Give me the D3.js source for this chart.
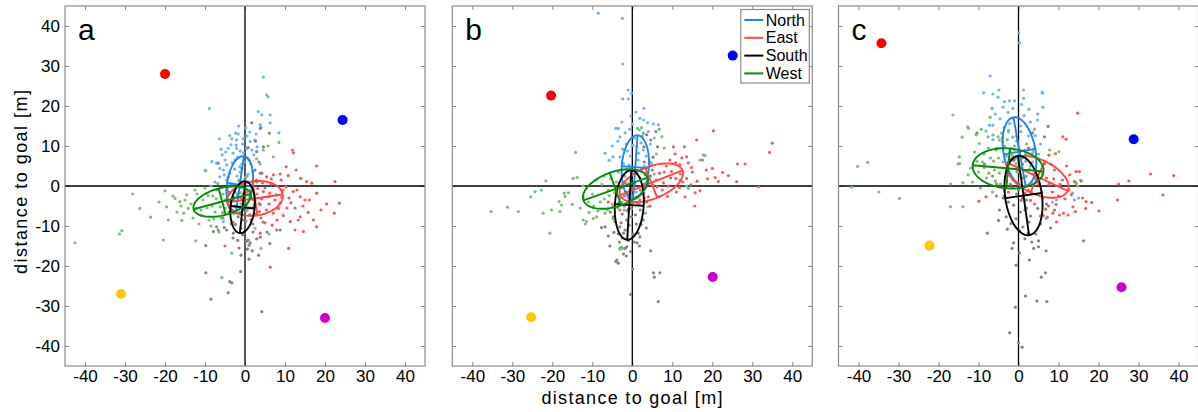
<!DOCTYPE html>
<html>
<head>
<meta charset="utf-8">
<script src="https://cdn.jsdelivr.net/npm/d3@7"></script>
<style>
  body { margin: 0; background: #fff; }
  svg { display: block; }
  text { font-family: "Liberation Sans", Arial, Helvetica, sans-serif; }
</style>
</head>
<body>
<svg id="chart" width="1198" height="412"></svg>
<script>
// ---- data -----------------------------------------------------------------
const panelLabels = ["a", "b", "c"];
const directions = ["North", "East", "South", "West"];
const tickValues = [-40, -30, -20, -10, 0, 10, 20, 30, 40];
const axisLabel = "distance to goal [m]";

// goal markers per panel: red, blue, yellow, magenta
const goalColors = ["#ff0000", "#0000ff", "#ffc800", "#cc00cc"];
const goalsA = [[-20, 28], [24.4, 16.5], [-31, -27], [20, -33]];
const goalsB = [[-20.3, 22.6], [25.1, 32.6], [-25.3, -32.8], [20.1, -22.75]];
const goalsC = [[-34.25, 35.7], [28.8, 11.7], [-22.25, -14.9], [25.75, -25.3]];

// covariance ellipses per direction: [cx, cy, semi-major, semi-minor, angle in degrees]
const ellipsesA = [[-1.3, 0.3, 7.2, 3.2, 82], [2.5, -3.1, 7.0, 4.3, 8], [-0.6, -5.3, 6.5, 3.0, 84], [-5.7, -3.9, 7.4, 3.4, 15]];
const ellipsesB = [[0.75, 4.7, 8.0, 3.4, 86], [4.75, 0.8, 8.4, 4.0, 21.7], [-0.75, -4.75, 8.7, 3.6, 86.5], [-4.2, -0.75, 8.5, 4.3, 19.5]];
const ellipsesC = [[0.25, 8.6, 8.7, 4.0, 100], [4.8, 2.3, 8.3, 4.3, -25], [1.25, -2.4, 10.0, 4.6, 98], [-2.6, 4.4, 8.9, 5.0, -5]];

// end positions of individual trials
const northA = [[4.6,27.2],[5.4,22.8],[5.8,22.3],[-8.9,19.4],[3.3,18.6],[4.2,17.8],[6.3,17.8],[3.8,15.3],[4.0,14.6],[6.3,15.8],[8.5,13.3],[-6.4,11.8],[-3.3,11.8],[-2.1,11.5],[-0.6,10.5],[1.3,11.1],[2.5,11.5],[-4.2,9.4],[-2.1,9.4],[0.4,9.4],[-2.3,13.2],[-3.5,10.3],[-1.2,8.8],[1.7,9.0],[-8.3,6.1],[-6.3,4.4],[-5.4,4.0],[-4.6,5.3],[-10.0,4.0],[-5.7,7.8],[-3.0,8.2],[-0.4,8.3],[-7.1,5.7],[-5.0,6.5],[-2.5,6.5],[-1.3,4.8],[-6.3,2.3],[-4.6,1.5],[-2.0,2.5],[0.8,3.0],[-3.5,0.5],[-1.0,-0.5],[-5.4,-8.9],[-3.3,-16.8],[-2.5,-1.5],[-4.0,-2.0],[1.5,5.5],[2.0,1.0],[-1.7,13.0],[0.2,14.5],[-3.8,3.2],[-0.2,6.0],[-2.8,-3.5],[3.0,9.8],[1.0,-2.5],[2.5,-10.6],[-7.5,1.0],[-1.5,1.2],[-3.0,-6.0],[0.5,12.5],
  [-1.8,7.2],[-0.8,5.5],[-2.6,4.2],[0.2,2.2],[-1.2,3.5],[-3.2,5.8],[0.6,7.0],[-2.2,10.2],[-4.8,8.5],[1.2,13.5],[-0.4,11.8],[2.2,7.8],[-3.8,12.6],[-6.0,9.2],[-1.6,15.0],[2.8,13.0],[-0.8,1.0],[-4.4,-0.6],[-2.0,-2.6],[-5.2,2.8]];
const eastA = [[11.9,9.0],[12.1,8.3],[10.3,4.8],[17.9,5.0],[22.5,1.1],[23.6,-4.3],[22.3,-6.8],[17.9,-10.2],[14.6,-11.4],[10.9,-15.6],[6.3,-20.3],[-5.0,-15.0],[13.9,1.9],[15.4,1.1],[16.7,0.7],[12.1,-1.4],[13.8,-2.7],[15.0,-3.5],[16.1,-3.5],[17.9,-1.8],[20.4,-4.5],[17.1,-8.5],[13.8,-7.7],[13.3,-8.5],[11.3,-8.9],[12.5,-11.0],[7.9,-11.0],[3.8,-11.8],[5.4,2.3],[7.1,2.8],[8.8,3.0],[2.9,1.5],[3.8,3.2],[4.6,-1.4],[5.8,-2.7],[7.5,-3.5],[8.8,-4.3],[3.8,-4.7],[2.1,-3.5],[5.4,-6.0],[7.1,-6.8],[-4.2,-1.4],[-2.9,-2.7],[9.5,-1.0],[10.5,-5.5],[6.5,0.5],[1.0,-5.5],[4.0,-8.0],[8.0,-8.5],[0.5,-1.5],[9.0,1.5],[11.0,-3.0],[2.5,-7.0],[6.0,-4.5],[-1.0,-3.0],[5.0,-0.5],[3.0,-2.0],[1.5,-8.5],[12.5,-5.5],[14.5,-5.0],
  [3.2,-0.6],[4.4,0.8],[6.2,-1.8],[7.8,-2.2],[9.2,-2.8],[10.2,-0.2],[11.5,-4.2],[3.6,-6.4],[5.0,-9.2],[6.8,-9.8],[9.6,-7.4],[8.4,-5.6],[4.2,-3.2],[2.4,-4.6],[6.6,1.8],[10.8,2.6],[13.0,-1.0],[15.8,-6.6],[19.0,-6.0],[12.8,4.0]];
const southA = [[1.7,15.8],[3.8,14.4],[6.1,13.2],[4.6,9.8],[2.9,8.6],[-6.7,5.7],[-9.8,-14.9],[-9.8,-21.7],[-8.5,-28.3],[-4.2,-26.7],[-3.8,-23.9],[-3.3,-24.2],[-1.1,-21.4],[1.0,-18.3],[-1.0,-17.3],[3.4,-17.3],[4.2,-31.4],[0.4,-13.8],[1.3,-14.2],[0.8,-13.5],[1.0,-14.8],[3.8,-12.8],[2.9,-13.2],[-2.9,-11.8],[-4.6,-11.0],[-6.7,-11.0],[-7.9,-11.4],[-7.1,-10.2],[8.8,-11.0],[-0.4,-8.5],[-1.7,-7.7],[-3.0,-9.0],[2.0,-9.5],[-1.0,-10.5],[0.5,-6.0],[-2.0,-5.0],[1.5,-3.0],[-0.5,-2.0],[2.5,4.0],[1.0,6.5],[3.5,6.0],[-3.0,-13.0],[-5.5,-8.0],[4.5,-9.0],[-1.5,-15.5],[2.0,-11.5],[5.5,-11.5],[-4.0,-6.5],[0.0,1.5],[3.0,1.0],
  [-1.2,-6.8],[0.2,-8.8],[-2.4,-9.6],[1.2,-7.2],[-0.6,-12.2],[0.6,-15.8],[1.8,-16.2],[-1.8,-13.6],[-0.2,-4.2],[1.8,-1.2],[-2.6,-1.4],[2.2,-5.2],[3.6,-4.4],[-3.6,-4.8],[-5.2,-10.4],[6.2,-14.4],[2.6,11.2],[0.8,9.6],[-0.8,4.4],[4.2,3.2]];
const westA = [[-42.5,-14.2],[-31.4,-12.0],[-30.8,-11.2],[-28.1,-2.0],[-26.3,-5.6],[-23.6,-7.8],[-20.4,-13.5],[-20.0,-1.2],[-19.2,-8.5],[-17.5,-3.1],[-16.3,-3.9],[-15.0,-3.5],[-14.2,-5.6],[-15.3,-6.8],[-12.3,-13.7],[-9.8,3.8],[-5.8,-22.9],[4.0,-15.6],[5.8,10.0],[8.5,10.9],[7.1,7.3],[3.8,5.5],[2.9,6.8],[-18.0,-2.5],[-16.0,-5.0],[-13.5,-4.5],[-12.0,-2.0],[-11.0,-6.0],[-10.5,-3.5],[-9.5,-5.5],[-9.0,-8.5],[-8.0,-2.5],[-7.5,-6.5],[-7.0,-1.0],[-6.5,-4.0],[-6.0,-8.0],[-5.5,-2.0],[-5.0,-5.5],[-4.5,-1.0],[-4.0,-7.0],[-3.5,-3.5],[-3.0,0.5],[-2.5,-5.0],[-2.0,-2.0],[-1.5,1.5],[-1.0,-4.5],[-13.0,-8.0],[-11.5,-9.5],[-8.5,-10.0],[-6.5,-11.5],[-17.0,-6.5],[-21.5,-4.0],[0.5,2.5],[1.5,-1.0],[-8.5,0.0],[-10.0,-0.5],[-12.5,-1.0],[-3.5,-9.5],[2.0,3.5],[6.0,-12.0],
  [-6.2,-5.2],[-7.2,-3.2],[-8.2,-5.0],[-9.2,-2.4],[-5.6,-6.6],[-4.8,-3.4],[-3.8,-1.8],[-2.8,-6.8],[-7.8,-8.2],[-10.8,-7.4],[-12.2,-5.6],[-14.6,-2.2],[-6.8,0.6],[-4.2,2.2],[-1.2,-1.6],[0.4,-6.2],[-19.6,-5.2],[-15.8,-8.6],[2.6,1.2],[4.6,9.0]];

const northB = [[-8.5,43.2],[-2.5,41.9],[-2.4,30.5],[-1.0,24.0],[-0.2,23.2],[-2.4,21.8],[-1.0,21.8],[-0.4,17.5],[2.9,19.4],[1.9,16.9],[2.8,16.5],[-4.1,14.4],[-3.5,14.4],[-1.8,13.3],[-0.6,14.2],[5.3,15.5],[6.5,15.3],[4.0,13.6],[-3.1,12.3],[-6.8,8.2],[-4.8,7.3],[-3.1,7.3],[-2.2,5.6],[-1.4,4.0],[-0.2,3.2],[1.1,9.8],[2.75,9.0],[0.5,12.0],[-1.5,10.5],[1.5,6.5],[3.0,5.0],[-0.5,7.5],[2.0,2.0],[-2.0,1.0],[0.5,0.5],[4.5,10.5],[-3.5,3.5],[1.0,-1.5],[-1.0,-3.0],[2.5,12.5],[-5.0,10.0],[3.5,7.5],[0.0,15.5],[5.5,12.0],[-2.5,-0.5],
  [-0.8,5.2],[0.8,3.4],[1.6,8.2],[-1.2,8.8],[0.2,10.2],[2.2,10.8],[-2.4,9.2],[3.4,3.2],[-0.4,1.6],[1.8,14.0],[3.8,15.8],[-3.6,11.2],[-2.6,16.0],[0.9,18.5],[-5.8,6.4],[4.8,5.6],[-1.8,2.4],[1.2,-4.2],[2.8,-1.8],[-0.6,-1.0]];
const eastB = [[20.3,13.8],[16.1,11.5],[35.0,10.7],[34.3,8.4],[28.2,5.5],[26.3,5.5],[24.0,2.6],[26.1,1.1],[31.5,-0.2],[20.0,4.4],[20.7,2.1],[21.5,1.1],[15.6,-5.0],[15.7,-1.7],[16.9,-1.2],[13.6,7.3],[14.0,5.8],[13.0,9.8],[10.3,9.8],[10.7,8.0],[9.4,6.5],[11.9,5.3],[10.9,1.9],[13.6,1.9],[14.6,0.3],[6.75,-2.7],[4.0,-2.7],[1.9,-3.5],[-3.1,-6.0],[-4.75,-5.2],[13.2,-2.7],[8.0,3.5],[6.0,1.5],[9.0,0.0],[12.0,3.0],[5.0,4.0],[3.0,0.5],[7.5,-1.0],[11.0,-1.5],[2.0,-1.0],[0.0,-4.5],[-2.0,-2.5],[17.5,6.5],[18.5,4.0],[15.0,3.5],[-6.0,-4.0],[4.5,-5.0],[8.5,5.0],
  [5.2,0.2],[6.8,3.2],[7.8,0.8],[9.8,3.6],[10.8,5.8],[11.8,-0.4],[4.0,1.8],[2.6,-2.0],[1.0,-2.8],[8.8,-2.6],[12.6,1.0],[14.8,4.6],[16.2,1.2],[-1.0,-5.8],[3.6,-4.0],[6.2,-0.2],[9.6,2.0],[18.8,1.8],[22.6,3.4],[12.4,7.0]];
const southB = [[3.6,12.8],[4.6,11.5],[5.9,13.6],[6.3,9.8],[2.9,9.8],[-5.6,-15.0],[-3.1,-15.6],[-2.7,-15.4],[-1.8,-15.6],[-1.4,-15.2],[-3.9,-18.5],[-3.5,-19.3],[-4.1,-18.9],[0.1,-20.8],[-0.4,-27.1],[5.3,-21.7],[6.9,-21.7],[5.5,-22.8],[6.5,-28.9],[4.6,-16.2],[1.8,-15.0],[-7.7,-10.4],[-6.8,-10.2],[-4.75,-7.7],[-4.3,-8.9],[-3.1,-10.2],[-1.8,-11.0],[-1.4,-8.5],[-0.2,-7.7],[1.5,-11.8],[2.75,-8.5],[1.9,-12.7],[-2.5,-13.0],[0.5,-14.0],[-3.5,-12.0],[-5.5,-6.5],[-2.0,-5.0],[0.5,-4.0],[2.0,-6.0],[3.5,-10.5],[-1.0,-2.0],[4.5,2.5],[3.0,6.0],[-6.0,-12.5],[1.0,-9.5],[-1.5,-17.5],[-2.5,-7.0],[3.0,-3.0],
  [-1.2,-6.2],[-0.2,-5.6],[-2.8,-9.2],[0.8,-7.2],[-0.8,-9.8],[-2.2,-11.8],[0.2,-12.0],[1.2,-14.2],[-1.0,-13.6],[-3.2,-14.0],[-4.6,-11.6],[2.2,-9.6],[-0.4,-16.4],[-2.2,-17.0],[1.6,-4.6],[-3.4,-4.2],[0.0,-0.6],[-1.8,0.8],[2.4,4.4],[5.2,7.2]];
const westB = [[-35.3,-6.4],[-31.2,-5.3],[-28.5,-6.4],[-25.4,-2.7],[-24.3,-1.4],[-21.6,1.3],[-22.7,-1.0],[-20.6,-11.8],[-22.3,-6.8],[-20.2,-6.0],[-18.1,-6.4],[-17.7,-4.75],[-18.3,-3.9],[-17.0,-1.8],[-16.0,-1.7],[-16.8,-2.6],[-14.2,8.4],[-14.8,1.9],[-13.8,2.1],[-12.3,0.0],[-12.3,-8.5],[-11.75,-9.5],[-11.5,-8.9],[-9.75,-8.1],[-8.9,-7.7],[-6.8,-6.8],[-3.1,-15.8],[-2.4,-15.6],[1.3,14.4],[2.3,14.6],[2.75,13.2],[6.75,14.2],[7.4,12.3],[17.75,7.75],[18.2,7.6],[16.9,6.5],[11.9,1.5],[13.6,0.0],[14.0,-0.6],[3.3,-6.8],[4.0,-5.2],[-10.0,-2.0],[-8.0,-4.0],[-6.0,-1.0],[-5.0,-4.5],[-4.0,1.0],[-3.0,-3.0],[-2.0,-6.0],[-1.0,0.5],[0.0,-2.5],[1.0,3.0],[2.5,-1.5],[4.5,6.0],[6.0,8.0],[-7.0,2.5],[-9.0,1.5],[-11.0,-4.0],[-13.0,-5.5],[5.5,3.0],[8.0,9.5],
  [-7.0,-3.2],[-5.8,-2.4],[-4.4,-1.6],[-3.6,-5.4],[-2.6,-4.0],[-1.6,-1.4],[-0.6,-4.6],[-8.6,-6.2],[-9.6,-5.0],[-6.2,-6.0],[-4.8,-8.2],[-7.6,0.4],[-5.4,1.8],[-2.2,2.6],[0.6,0.6],[1.8,-4.2],[3.2,2.8],[-12.2,-3.0],[-15.0,-4.6],[-10.8,-6.6]];

const northC = [[0.1,38.3],[0.25,35.8],[-7.1,27.5],[-4.9,24.0],[-8.7,23.3],[-6.4,23.0],[-5.1,22.2],[1.25,24.0],[5.9,23.5],[6.0,23.2],[-3.5,21.1],[-2.25,21.3],[-1.0,21.3],[1.25,21.9],[-6.6,19.4],[-3.9,19.7],[-1.4,19.4],[6.1,19.7],[-16.4,17.75],[4.8,18.0],[-7.25,15.2],[-6.4,15.2],[-8.1,13.75],[4.75,16.5],[-2.5,13.5],[0.5,15.0],[2.5,12.5],[-4.0,11.0],[-1.0,10.0],[1.5,9.0],[-3.0,7.5],[3.5,6.0],[0.0,5.0],[-2.0,3.0],[2.0,2.5],[5.5,10.5],[13.5,-1.8],[15.0,-3.0],[14.0,-3.5],[15.5,1.5],[6.9,-8.1],[9.5,-3.5],[8.5,-4.0],[-5.5,9.5],[3.0,16.0],[-1.5,17.0],
  [-1.4,12.2],[-0.4,11.2],[0.6,13.6],[-2.2,15.6],[1.4,17.6],[-3.6,14.6],[-4.6,16.8],[2.6,19.2],[-1.8,9.4],[0.2,8.2],[1.8,6.2],[-0.8,6.8],[3.8,9.2],[2.8,4.2],[-2.6,18.4],[-5.8,18.0],[0.8,20.4],[4.2,12.6],[-6.4,11.6],[3.2,1.0]];
const eastC = [[14.8,18.2],[11.1,12.3],[11.9,11.7],[9.25,8.1],[7.6,7.7],[33.0,3.0],[38.8,2.6],[27.6,1.25],[25.0,0.5],[24.75,-3.5],[36.1,-2.25],[20.1,-6.25],[18.3,-4.1],[16.9,-3.9],[16.0,-3.0],[14.4,3.6],[15.25,3.6],[14.0,1.1],[14.4,0.8],[12.6,-1.0],[13.6,-5.2],[12.4,-7.25],[11.25,-6.8],[10.25,-7.25],[8.6,-6.8],[-9.9,-3.8],[-8.1,-2.7],[9.0,4.0],[7.0,2.0],[5.0,0.5],[8.5,-1.5],[11.0,1.5],[6.0,-3.0],[4.0,-4.5],[2.5,-1.0],[3.5,3.0],[6.5,5.5],[10.0,-2.5],[7.5,-5.0],[2.0,-5.5],[-2.5,-1.5],[5.5,-7.5],[12.0,5.0],[-5.5,0.5],[1.0,-3.0],[9.5,-9.0],
  [3.6,0.2],[4.6,1.6],[5.8,-1.6],[7.6,0.4],[8.8,1.8],[10.4,0.4],[9.4,-4.6],[11.6,-3.2],[6.8,-5.8],[3.0,-3.6],[5.2,3.6],[8.2,5.4],[12.8,2.8],[13.2,-2.2],[1.6,-1.8],[0.0,0.6],[-3.6,-2.6],[16.8,-5.6],[14.2,-6.4],[7.2,-7.8]];
const southC = [[-10.4,13.2],[6.5,12.3],[3.5,13.3],[7.4,14.9],[15.7,1.25],[16.25,-13.7],[-7.8,-11.8],[-1.2,-14.2],[-1.6,-15.6],[0.25,-16.7],[-0.6,-19.8],[2.75,-18.5],[1.75,-27.5],[4.6,-28.75],[7.1,-28.9],[5.7,-22.8],[6.75,-21.7],[5.0,-15.2],[5.0,-13.7],[6.9,-16.2],[-0.8,-30.3],[-2.2,-36.7],[0.0,-39.2],[0.9,-40.3],[-4.75,-6.0],[-3.1,-7.7],[-1.9,-9.4],[1.1,-10.25],[2.4,-11.75],[3.3,-14.0],[4.3,-12.0],[-2.5,-4.0],[0.5,-6.5],[3.0,-7.5],[5.5,-9.5],[8.0,-10.5],[-0.5,-2.0],[2.0,-3.5],[-3.5,-1.0],[-5.5,-2.5],[-1.5,2.0],[1.0,5.5],[-2.0,8.5],[2.5,9.5],[-4.0,12.0],[9.0,-6.0],[7.0,-4.5],[-6.5,2.5],[-8.5,5.5],[4.0,2.0],
  [-1.2,-4.8],[0.6,-3.6],[1.6,-6.0],[-0.6,-8.2],[2.6,-9.0],[0.2,-11.2],[1.6,-13.2],[3.8,-15.6],[-2.8,-10.8],[-3.8,-3.0],[-2.0,0.4],[0.0,-1.0],[1.2,2.0],[3.2,-1.6],[4.8,-5.6],[6.2,-7.4],[-0.4,3.6],[-1.2,6.4],[1.8,7.8],[-5.0,-8.6]];
const westC = [[-40.2,4.9],[-37.7,5.9],[-41.7,-0.3],[-34.9,-1.5],[-29.75,-3.1],[-17.0,-5.2],[-13.9,-5.2],[-17.0,0.5],[-13.9,0.8],[-14.8,7.3],[-14.7,5.6],[-15.1,5.5],[-14.1,12.2],[-12.7,14.8],[-12.5,14.4],[-9.3,14.2],[-7.1,17.2],[-10.6,12.8],[-7.6,12.3],[-6.4,12.7],[-5.1,12.3],[-4.75,11.5],[7.75,9.0],[10.1,8.6],[4.0,14.2],[14.4,0.6],[14.8,0.0],[-11.0,8.5],[-9.0,6.0],[-7.5,9.5],[-6.0,4.0],[-5.0,7.0],[-3.5,10.0],[-3.0,2.5],[-2.0,6.5],[-1.0,9.0],[0.0,3.5],[1.0,7.0],[2.0,10.5],[3.0,5.0],[-8.0,2.0],[-10.0,3.5],[-12.0,4.5],[-4.5,0.5],[-1.5,-0.5],[5.0,8.0],[6.0,3.0],[-6.5,-1.5],[-9.5,-0.5],[-11.5,1.0],[-2.5,14.0],[-0.5,12.5],[-7.0,7.0],[-4.0,4.5],
  [-8.6,4.6],[-7.4,3.2],[-6.2,6.2],[-4.8,3.2],[-3.8,6.0],[-2.6,4.2],[-1.6,7.6],[-0.6,5.6],[0.8,4.6],[1.8,2.4],[-5.6,9.0],[-8.6,8.0],[-10.4,6.2],[-12.6,2.8],[-4.2,13.2],[-2.8,11.6],[-5.8,1.2],[-9.8,10.6],[3.6,8.4],[-1.4,1.6]];

// ---- styling --------------------------------------------------------------
const lineColor = { North: "#1e86e6", East: "#ff4545", South: "#000000", West: "#078a07" };
const dotColor  = { North: "#6cb6f6", East: "#f45c5c", South: "#858585", West: "#74c474" };
const frameColor = "#8a8a8a";

const panels = [
  { label: panelLabels[0], goals: goalsA, ellipses: ellipsesA, trials: [northA, eastA, southA, westA], left: 65 },
  { label: panelLabels[1], goals: goalsB, ellipses: ellipsesB, trials: [northB, eastB, southB, westB], left: 452.3 },
  { label: panelLabels[2], goals: goalsC, ellipses: ellipsesC, trials: [northC, eastC, southC, westC], left: 838.5 }
];

const size = 360, panelTop = 6;
const svg = d3.select("#chart");

panels.forEach((p, i) => {
  const x = d3.scaleLinear().domain([-45, 45]).range([0, size]);
  const y = d3.scaleLinear().domain([-45, 45]).range([size, 0]);
  const g = svg.append("g").attr("transform", `translate(${p.left},${panelTop})`);

  g.append("clipPath").attr("id", `clip-${p.label}`)
    .append("rect").attr("width", size).attr("height", size);

  // inward ticks on all four sides
  const styleAxis = sel => {
    sel.select(".domain").remove();
    sel.selectAll(".tick line").attr("stroke", frameColor);
    sel.selectAll(".tick text").attr("fill", "#000").attr("font-size", 17)
      .attr("font-family", "'Liberation Sans', Arial, sans-serif");
  };
  g.append("g").attr("transform", `translate(0,${size})`)
    .call(d3.axisBottom(x).tickValues(tickValues).tickSize(-4).tickPadding(4).tickFormat(d => d))
    .call(styleAxis);
  g.append("g")
    .call(d3.axisTop(x).tickValues(tickValues).tickSize(-4).tickFormat(""))
    .call(styleAxis);
  g.append("g")
    .call(d3.axisLeft(y).tickValues(tickValues).tickSize(-4).tickPadding(5)
      .tickFormat(i === 0 ? (d => d) : ""))
    .call(styleAxis);
  g.append("g").attr("transform", `translate(${size},0)`)
    .call(d3.axisRight(y).tickValues(tickValues).tickSize(-4).tickFormat(""))
    .call(styleAxis);

  const plot = g.append("g").attr("clip-path", `url(#clip-${p.label})`);

  // zero lines
  plot.append("line").attr("x1", x(0)).attr("x2", x(0)).attr("y1", 0).attr("y2", size)
    .attr("stroke", "#000").attr("stroke-width", 1.3);
  plot.append("line").attr("x1", 0).attr("x2", size).attr("y1", y(0)).attr("y2", y(0))
    .attr("stroke", "#000").attr("stroke-width", 1.3);

  // trial end points
  directions.forEach((dir, k) => {
    plot.append("g").selectAll("circle").data(p.trials[k]).join("circle")
      .attr("cx", d => x(d[0])).attr("cy", d => y(d[1])).attr("r", 1.6)
      .attr("fill", dotColor[dir]);
  });

  // ellipses with their principal axes
  const line = d3.line();
  directions.forEach((dir, k) => {
    const [cx, cy, a, b, ang] = p.ellipses[k];
    const t = ang * Math.PI / 180;
    const ct = Math.cos(t), st = Math.sin(t);
    const pt = (u, v) => [x(cx + u * ct - v * st), y(cy + u * st + v * ct)];
    const ring = d3.range(0, 361, 4).map(s => {
      const r = s * Math.PI / 180;
      return pt(a * Math.cos(r), b * Math.sin(r));
    });
    const eg = plot.append("g").attr("fill", "none")
      .attr("stroke", lineColor[dir]).attr("stroke-width", 1.9);
    eg.append("path").attr("d", line(ring));
    eg.append("path").attr("d", line([pt(-a, 0), pt(a, 0)]));
    eg.append("path").attr("d", line([pt(0, -b), pt(0, b)]));
  });

  // goal markers
  plot.append("g").selectAll("circle").data(p.goals).join("circle")
    .attr("cx", d => x(d[0])).attr("cy", d => y(d[1])).attr("r", 5)
    .attr("fill", (d, j) => goalColors[j]);

  // frame
  g.append("rect").attr("x", 0).attr("y", 0).attr("width", size).attr("height", size)
    .attr("fill", "none").attr("stroke", frameColor).attr("stroke-width", 1.2);

  // panel letter
  g.append("text").attr("x", 13).attr("y", 34).attr("font-size", 30)
    .attr("fill", "#000").text(p.label);

  // legend in the middle panel
  if (i === 1) {
    const lg = g.append("g").attr("transform", "translate(288.5,3.5)");
    lg.append("rect").attr("width", 68.5).attr("height", 73.5)
      .attr("fill", "#fff").attr("stroke", frameColor).attr("stroke-width", 1.2);
    directions.forEach((dir, k) => {
      const yy = 10.5 + k * 17.8;
      lg.append("line").attr("x1", 3.5).attr("x2", 22.5).attr("y1", yy).attr("y2", yy)
        .attr("stroke", lineColor[dir]).attr("stroke-width", 2);
      lg.append("text").attr("x", 25).attr("y", yy).attr("dy", "0.35em")
        .attr("font-size", 16).attr("fill", "#000").text(dir);
    });
  }
});

// shared axis titles
svg.append("text").attr("x", 632).attr("y", 404).attr("text-anchor", "middle")
  .attr("font-size", 18).attr("fill", "#000")
  .attr("textLength", 181).attr("lengthAdjust", "spacing").text(axisLabel);
svg.append("text").attr("transform", "translate(27,182) rotate(-90)")
  .attr("text-anchor", "middle").attr("font-size", 18).attr("fill", "#000")
  .attr("textLength", 184).attr("lengthAdjust", "spacing").text(axisLabel);
</script>
</body>
</html>
